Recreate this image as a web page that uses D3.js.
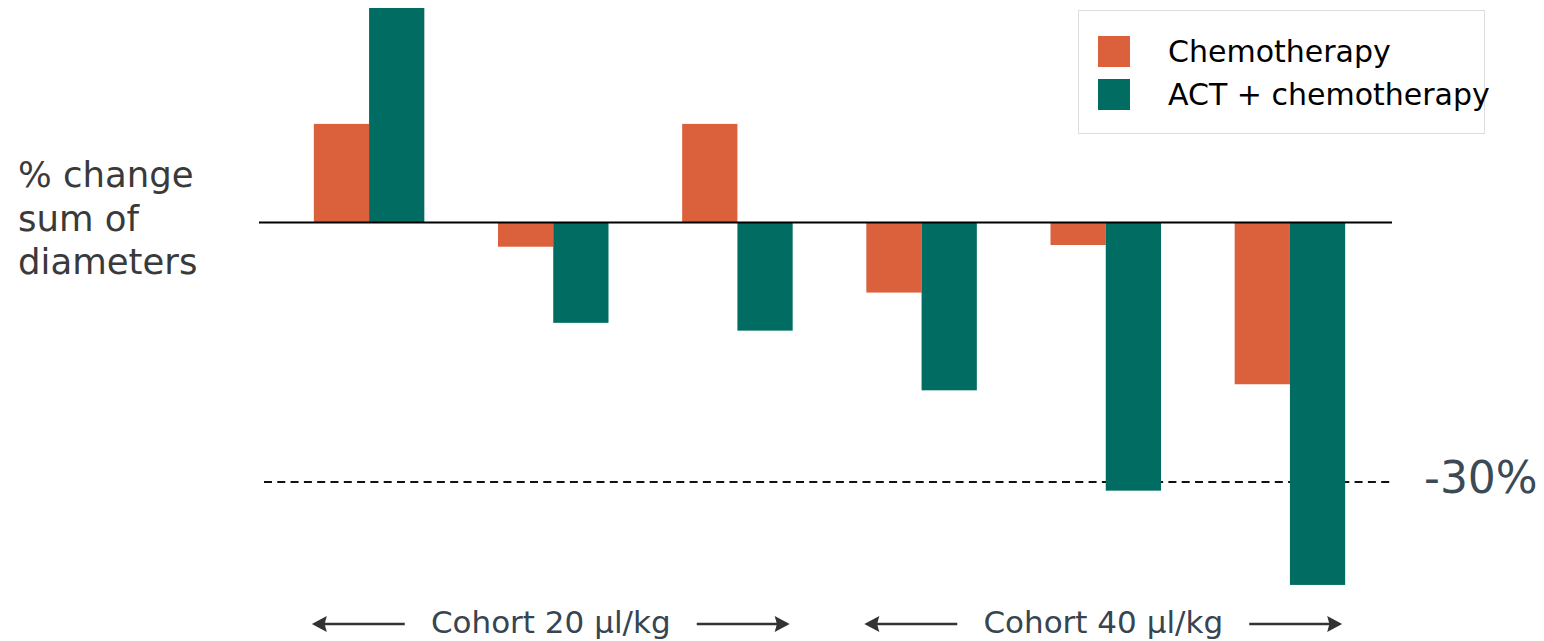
<!DOCTYPE html>
<html>
<head>
<meta charset="utf-8">
<script src="https://cdn.jsdelivr.net/npm/d3@7"></script>
<style>
  body { margin: 0; background: #fff; }
  text { font-family: "DejaVu Sans", sans-serif; }
</style>
</head>
<body>
<div id="chart"></div>
<script>
// data (% change in sum of diameters)
const patients = ["P1", "P2", "P3", "P4", "P5", "P6"];
const seriesNames = ["Chemotherapy", "ACT + chemotherapy"];
const chemoValues = [11.4, -2.8, 11.4, -8.1, -2.6, -18.7];
const actValues = [24.8, -11.6, -12.5, -19.4, -31.0, -41.9];
const cohorts = [
  { label: "Cohort 20 µl/kg", first: "P1", last: "P3" },
  { label: "Cohort 40 µl/kg", first: "P4", last: "P6" }
];
const thresholdValue = -30;
const thresholdLabel = "-30%";
const yLabelLines = ["% change", "sum of", "diameters"];

const colors = ["#db613c", "#006c62"];

const width = 1544, height = 641;

const svg = d3.select("#chart").append("svg")
  .attr("width", width)
  .attr("height", height);

// group scale and series sub-scale
const x = d3.scaleBand()
  .domain(patients)
  .range([277, 1382])
  .paddingInner(0.4)
  .paddingOuter(0.2);

const xSub = d3.scaleBand()
  .domain(seriesNames)
  .range([0, x.bandwidth()]);

const y = d3.scaleLinear()
  .domain([thresholdValue, 0])
  .range([482, 222.5]);

const rows = patients.map((p, i) => ({ patient: p, values: [chemoValues[i], actValues[i]] }));

// -30% threshold (under the bars)
svg.append("line")
  .attr("x1", 264).attr("x2", 1393)
  .attr("y1", y(thresholdValue)).attr("y2", y(thresholdValue))
  .attr("stroke", "#111")
  .attr("stroke-width", 2)
  .attr("stroke-dasharray", "8,5.3");

svg.append("text")
  .attr("x", 1424)
  .attr("y", y(thresholdValue) + 11)
  .attr("font-size", 44)
  .attr("fill", "#3b4a55")
  .text(thresholdLabel);

// bars
const groups = svg.append("g").selectAll("g")
  .data(rows)
  .join("g")
    .attr("transform", d => `translate(${x(d.patient)},0)`);

groups.selectAll("rect")
  .data(d => d.values.map((v, i) => ({ name: seriesNames[i], value: v, idx: i })))
  .join("rect")
    .attr("x", d => xSub(d.name))
    .attr("width", xSub.bandwidth())
    .attr("y", d => Math.min(y(d.value), y(0)))
    .attr("height", d => Math.abs(y(d.value) - y(0)))
    .attr("fill", d => colors[d.idx]);

// zero line
svg.append("line")
  .attr("x1", 259).attr("x2", 1392)
  .attr("y1", y(0)).attr("y2", y(0))
  .attr("stroke", "#000")
  .attr("stroke-width", 2);

// y label
svg.append("text")
  .attr("x", 18)
  .attr("font-size", 35.5)
  .attr("fill", "#3a3a3a")
  .selectAll("tspan")
  .data(yLabelLines)
  .join("tspan")
    .attr("x", 18)
    .attr("y", (d, i) => 187 + i * 43.5)
    .text(d => d);

// legend
const legend = svg.append("g");
legend.append("rect")
  .attr("x", 1078.5).attr("y", 10.5)
  .attr("width", 406).attr("height", 123)
  .attr("fill", "#fff")
  .attr("stroke", "#ddd");

const legendItems = legend.selectAll("g.item")
  .data(seriesNames)
  .join("g")
    .attr("class", "item")
    .attr("transform", (d, i) => `translate(1098,${36 + i * 43})`);

legendItems.append("rect")
  .attr("width", 32).attr("height", 31)
  .attr("fill", (d, i) => colors[i]);

legendItems.append("text")
  .attr("x", 70)
  .attr("y", 26)
  .attr("font-size", 30)
  .attr("fill", "#000")
  .text(d => d);

// cohort arrows
const arrowY = 624;
const headLen = 15, headHalf = 8;
const arrowColor = "#333";

function arrow(from, to) {
  const dir = to > from ? 1 : -1;
  svg.append("line")
    .attr("x1", from).attr("x2", to - dir * headLen * 0.7)
    .attr("y1", arrowY).attr("y2", arrowY)
    .attr("stroke", arrowColor).attr("stroke-width", 2.5);
  svg.append("path")
    .attr("d", `M${to},${arrowY}L${to - dir * headLen},${arrowY - headHalf}L${to - dir * headLen * 0.85},${arrowY}L${to - dir * headLen},${arrowY + headHalf}Z`)
    .attr("fill", arrowColor);
}

cohorts.forEach(c => {
  const left = x(c.first) - 2;
  const right = x(c.last) + x.bandwidth() - 3;
  const mid = (left + right) / 2;
  const half = 146;
  arrow(mid - half, left);
  arrow(mid + half, right);
  svg.append("text")
    .attr("x", mid)
    .attr("y", 633)
    .attr("text-anchor", "middle")
    .attr("font-size", 31)
    .attr("fill", "#36454f")
    .text(c.label);
});
</script>
</body>
</html>
